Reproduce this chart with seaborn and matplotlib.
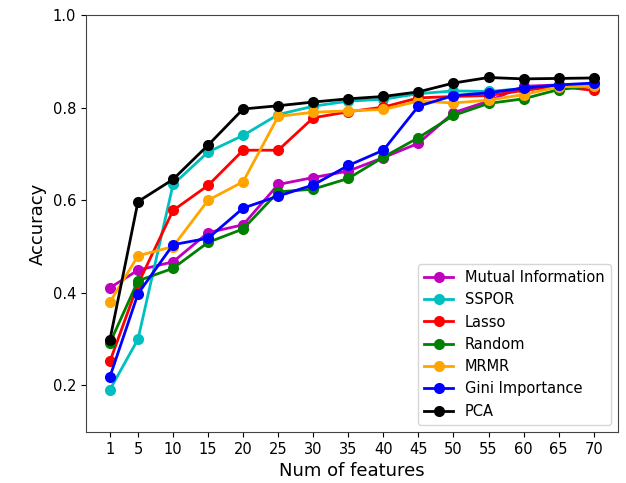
import pandas as pd
import matplotlib
matplotlib.use("Agg")
import matplotlib.pyplot as plt
import seaborn as sns

# Data
num_features = [1, 5, 10, 15, 20, 25, 30, 35, 40, 45, 50, 55, 60, 65, 70]

mutual_info = [0.411, 0.449, 0.467, 0.530, 0.547, 0.634, 0.649, 0.663, 0.692, 0.723, 0.789, 0.814, 0.846, 0.849, 0.849]
sspor = [0.191, 0.300, 0.634, 0.704, 0.740, 0.785, 0.803, 0.814, 0.818, 0.830, 0.836, 0.835, 0.841, 0.848, 0.851]
lasso = [0.252, 0.419, 0.578, 0.632, 0.708, 0.708, 0.778, 0.791, 0.801, 0.821, 0.824, 0.826, 0.837, 0.846, 0.837]
random_sel = [0.292, 0.426, 0.453, 0.509, 0.538, 0.618, 0.624, 0.647, 0.693, 0.735, 0.783, 0.809, 0.819, 0.839, 0.847]
mrmr = [0.380, 0.480, 0.500, 0.600, 0.640, 0.781, 0.790, 0.793, 0.796, 0.814, 0.810, 0.816, 0.828, 0.845, 0.846]
gini = [0.219, 0.398, 0.504, 0.518, 0.583, 0.609, 0.633, 0.675, 0.708, 0.803, 0.826, 0.832, 0.842, 0.849, 0.853]
pca = [0.299, 0.597, 0.645, 0.719, 0.797, 0.804, 0.812, 0.819, 0.824, 0.834, 0.853, 0.865, 0.862, 0.863, 0.864]

methods = ["Mutual Information", "SSPOR", "Lasso", "Random", "MRMR", "Gini Importance", "PCA"]
series = [mutual_info, sspor, lasso, random_sel, mrmr, gini, pca]
colors = ["m", "c", "r", "g", "orange", "b", "k"]

rows = []
for name, vals in zip(methods, series):
    for n, v in zip(num_features, vals):
        rows.append({"Num of features": n, "Accuracy": v, "Method": name})
df = pd.DataFrame(rows)

# Plot
fig, ax = plt.subplots(figsize=(6.26, 4.83), dpi=100)
fig.subplots_adjust(left=0.137, right=0.987, top=0.969, bottom=0.106)

sns.lineplot(data=df, x="Num of features", y="Accuracy", hue="Method",
             hue_order=methods, palette=dict(zip(methods, colors)),
             marker="o", markersize=8, markeredgewidth=0, linewidth=2, ax=ax)

ax.set_xticks(num_features)
ax.set_ylim(0.1, 1.0)
ax.set_yticks([0.2, 0.4, 0.6, 0.8, 1.0])
ax.tick_params(labelsize=10.5)
ax.set_xlabel("Num of features", fontsize=13)
ax.set_ylabel("Accuracy", fontsize=13)
for s in ax.spines.values():
    s.set_color("#444444")

ax.legend(loc="lower right", fontsize=10.5, title=None)

fig.savefig("out.png", dpi=100)
